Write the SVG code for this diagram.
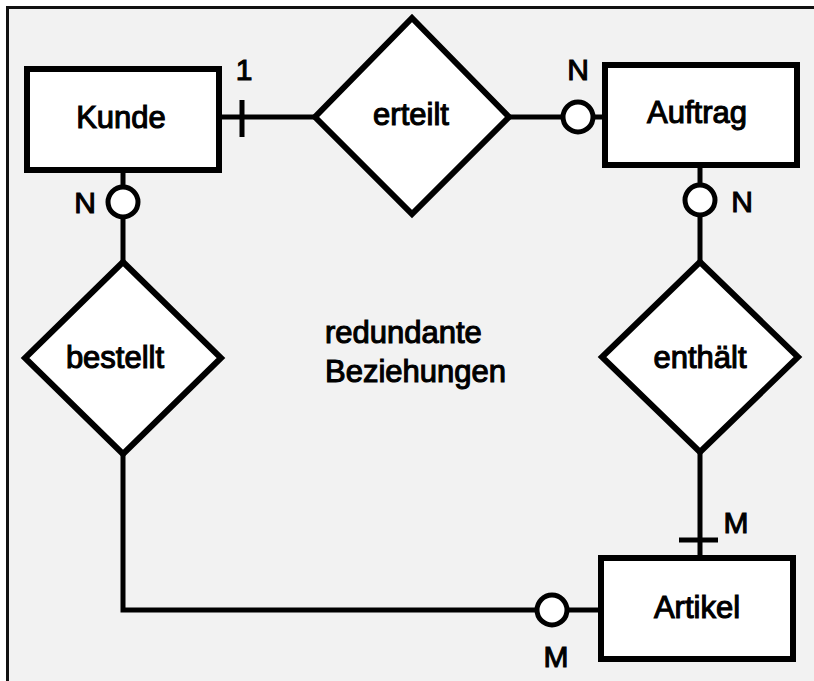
<svg xmlns="http://www.w3.org/2000/svg" width="814" height="681" viewBox="0 0 814 681">
<style>
.ent{fill:#fff;stroke:#000;stroke-width:6}
.rel{fill:#fff;stroke:#000;stroke-width:6;stroke-linejoin:miter}
.con{fill:none;stroke:#000;stroke-width:5}
.circ{fill:#fff;stroke:#000;stroke-width:5}
.t{font-family:"Liberation Sans",Arial,sans-serif;font-size:31px;fill:#000;stroke:#000;stroke-width:1.1;text-anchor:middle}
.s{text-anchor:start}
.lbl{font-family:"Liberation Sans",Arial,sans-serif;font-size:30px;fill:#000;stroke:#000;stroke-width:1.1;text-anchor:middle}
</style>
<rect x="0" y="0" width="814" height="681" fill="#fff"/>
<rect x="7.5" y="7.5" width="820" height="690" fill="#f2f2f2" stroke="#111" stroke-width="3"/>
<g id="connectors">
<path class="con" d="M222 117 H315"/>
<path class="con" d="M242 100 V137" stroke-width="6"/>
<path class="con" d="M509 117 H602"/>
<path class="con" d="M123 173 V262"/>
<path class="con" d="M700 168 V262"/>
<path class="con" d="M700 453 V555"/>
<path class="con" d="M679 540 H718" stroke-width="6"/>
<path class="con" d="M123 455 V610 H598"/>
<circle class="circ" cx="578" cy="117" r="15"/>
<circle class="circ" cx="123" cy="202" r="15"/>
<circle class="circ" cx="700" cy="200" r="15"/>
<circle class="circ" cx="552" cy="610" r="15"/>
<text class="lbl" x="244" y="80">1</text>
<text class="lbl" x="578" y="80">N</text>
<text class="lbl" x="85" y="213">N</text>
<text class="lbl" x="742" y="212">N</text>
<text class="lbl" x="736" y="533">M</text>
<text class="lbl" x="556" y="667">M</text>
</g>
<g id="kunde">
<rect class="ent" x="27" y="69" width="192" height="101"/>
<text class="t" x="121" y="128">Kunde</text>
</g>
<g id="auftrag">
<rect class="ent" x="605" y="65" width="192" height="100"/>
<text class="t" x="697" y="123">Auftrag</text>
</g>
<g id="artikel">
<rect class="ent" x="601" y="558" width="192" height="101"/>
<text class="t" x="697" y="618">Artikel</text>
</g>
<g id="erteilt">
<polygon class="rel" points="412,18 509,117 412,214 315,117"/>
<text class="t" x="411" y="125">erteilt</text>
</g>
<g id="bestellt">
<polygon class="rel" points="123,262 221,358 123,454 25,358"/>
<text class="t" x="115" y="368">bestellt</text>
</g>
<g id="enthaelt">
<polygon class="rel" points="700,262 798,357 700,452 602,357"/>
<text class="t" x="700" y="368">enthält</text>
</g>
<g id="note">
<text class="t s" x="325" y="343">redundante</text>
<text class="t s" x="325" y="382">Beziehungen</text>
</g>
</svg>
